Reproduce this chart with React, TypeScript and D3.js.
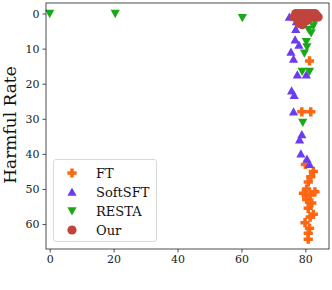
import React, { useEffect, useRef } from 'react';
import * as d3 from 'd3';

// points: [x, harmful rate]
const FT_PTS = [
  [81.3, 13.5], [78.9, 28], [81.7, 28], [80, 43], [82.5, 45], [81.7, 46.5], [80.9, 48],
  [80.4, 50], [79.4, 51.2], [83, 50.8], [81.5, 51.7], [80.4, 53], [82, 54], [80.9, 55.5],
  [82.5, 57.2], [81.5, 58], [79.9, 59.6], [81.3, 61.2], [80.9, 62.6], [80.9, 64.3],
];
const SOFTSFT_PTS = [
  [75, 1], [77.2, 2.3], [77, 4.5], [76.8, 7.5], [78, 9], [75.5, 11], [76.3, 13],
  [77.5, 17.5], [80.3, 17.5], [75.7, 22], [76.5, 23.3], [76.3, 28], [78.9, 34.5],
  [78.2, 36], [78.6, 40], [80.5, 41.5], [81.3, 43],
];
const RESTA_PTS = [
  [0, 0], [20.5, 0], [60.3, 1.2], [83, 2], [82.5, 3.5], [81, 4.5], [81.8, 5.5],
  [80.3, 8], [80.5, 9.5], [79.7, 11.3], [79, 16.5], [81.3, 16.5], [79.2, 31],
];
const OUR_PTS = [
  [77, 0], [78, 0], [79, 0], [80, 0], [81, 0], [82, 0], [83, 0], [83.5, 0.5],
  [76.5, 1], [77.5, 1.5], [78.5, 2], [79.5, 2.5], [80.5, 2], [81.5, 1.2], [82.5, 1],
  [78, 2.8], [79, 3.2], [80.5, 0.8], [84, 1],
];
const SERIES = ['FT', 'SoftSFT', 'RESTA', 'Our'];
const X_TICKS = [0, 20, 40, 60, 80];
const Y_TICKS = [0, 10, 20, 30, 40, 50, 60];

const COLORS = { FT: '#ff6611', SoftSFT: '#6a3ef0', RESTA: '#18a818', Our: '#c0443c' };
const FONT = '"DejaVu Serif", serif';

// marker path centred on 0,0
function markerPath(kind: string, s = 4.6) {
  if (kind === 'FT') {
    const a = s * 0.38;
    return `M${-a},${-s}H${a}V${-a}H${s}V${a}H${a}V${s}H${-a}V${a}H${-s}V${-a}H${-a}Z`;
  }
  if (kind === 'SoftSFT') return `M0,${-s}L${s},${s * 0.8}L${-s},${s * 0.8}Z`;
  if (kind === 'RESTA') return `M0,${s}L${s},${-s * 0.8}L${-s},${-s * 0.8}Z`;
  return d3.symbol(d3.symbolCircle, Math.PI * s * s)() as string;
}

export default function App() {
  const svgRef = useRef<SVGSVGElement>(null);

  useEffect(() => {
    const width = 332;
    const height = 290;
    const margin = { top: 3, right: 3, bottom: 41, left: 46 };

    const svg = d3.select(svgRef.current);
    svg.selectAll('*').remove();
    svg.attr('width', width).attr('height', height);

    const x = d3.scaleLinear().domain([-1.16, 87.4]).range([margin.left, width - margin.right]);
    const y = d3.scaleLinear().domain([-3.0, 67.1]).range([margin.top, height - margin.bottom]);

    const data: Record<string, number[][]> = {
      FT: FT_PTS, SoftSFT: SOFTSFT_PTS, RESTA: RESTA_PTS, Our: OUR_PTS,
    };

    SERIES.forEach(s => {
      svg.append('g').selectAll('path').data(data[s]).join('path')
        .attr('d', markerPath(s))
        .attr('transform', d => `translate(${x(d[0])},${y(d[1])})`)
        .attr('fill', (COLORS as any)[s]);
    });

    const xAxis = svg.append('g').attr('transform', `translate(0,${height - margin.bottom})`)
      .call(d3.axisBottom(x).tickValues(X_TICKS).tickSize(3.5).tickPadding(3).tickSizeOuter(0));
    const yAxis = svg.append('g').attr('transform', `translate(${margin.left},0)`)
      .call(d3.axisLeft(y).tickValues(Y_TICKS).tickSize(3.5).tickPadding(3).tickSizeOuter(0));
    [xAxis, yAxis].forEach(g => {
      g.select('.domain').remove();
      g.selectAll('text').style('font-family', FONT).style('font-size', '11px').attr('fill', '#222');
      g.selectAll('line').attr('stroke', '#222').attr('stroke-width', 0.8);
    });

    // frame
    svg.append('rect').attr('x', margin.left).attr('y', margin.top)
      .attr('width', width - margin.left - margin.right)
      .attr('height', height - margin.top - margin.bottom)
      .attr('fill', 'none').attr('stroke', '#222').attr('stroke-width', 0.8);

    svg.append('text').attr('transform', `translate(16,125) rotate(-90)`)
      .attr('text-anchor', 'middle').style('font-family', FONT).style('font-size', '17px')
      .attr('fill', '#111').text('Harmful Rate');

    // legend
    const lg = svg.append('g');
    lg.append('rect').attr('x', 53.5).attr('y', 159.5).attr('width', 103).attr('height', 82)
      .attr('rx', 2.5).attr('fill', 'white').attr('fill-opacity', 0.8)
      .attr('stroke', '#d0d0d0').attr('stroke-width', 0.8);
    SERIES.forEach((s, i) => {
      const cy = 173 + i * 19;
      lg.append('path').attr('d', markerPath(s)).attr('transform', `translate(72,${cy})`)
        .attr('fill', (COLORS as any)[s]);
      lg.append('text').attr('x', 96).attr('y', cy).attr('dy', '0.35em')
        .style('font-family', FONT).style('font-size', '13px').attr('fill', '#111').text(s);
    });
  }, []);

  return (
    <div style={{ position: 'absolute', left: 0, top: 0, background: 'white' }}>
      <svg ref={svgRef}></svg>
    </div>
  );
}
